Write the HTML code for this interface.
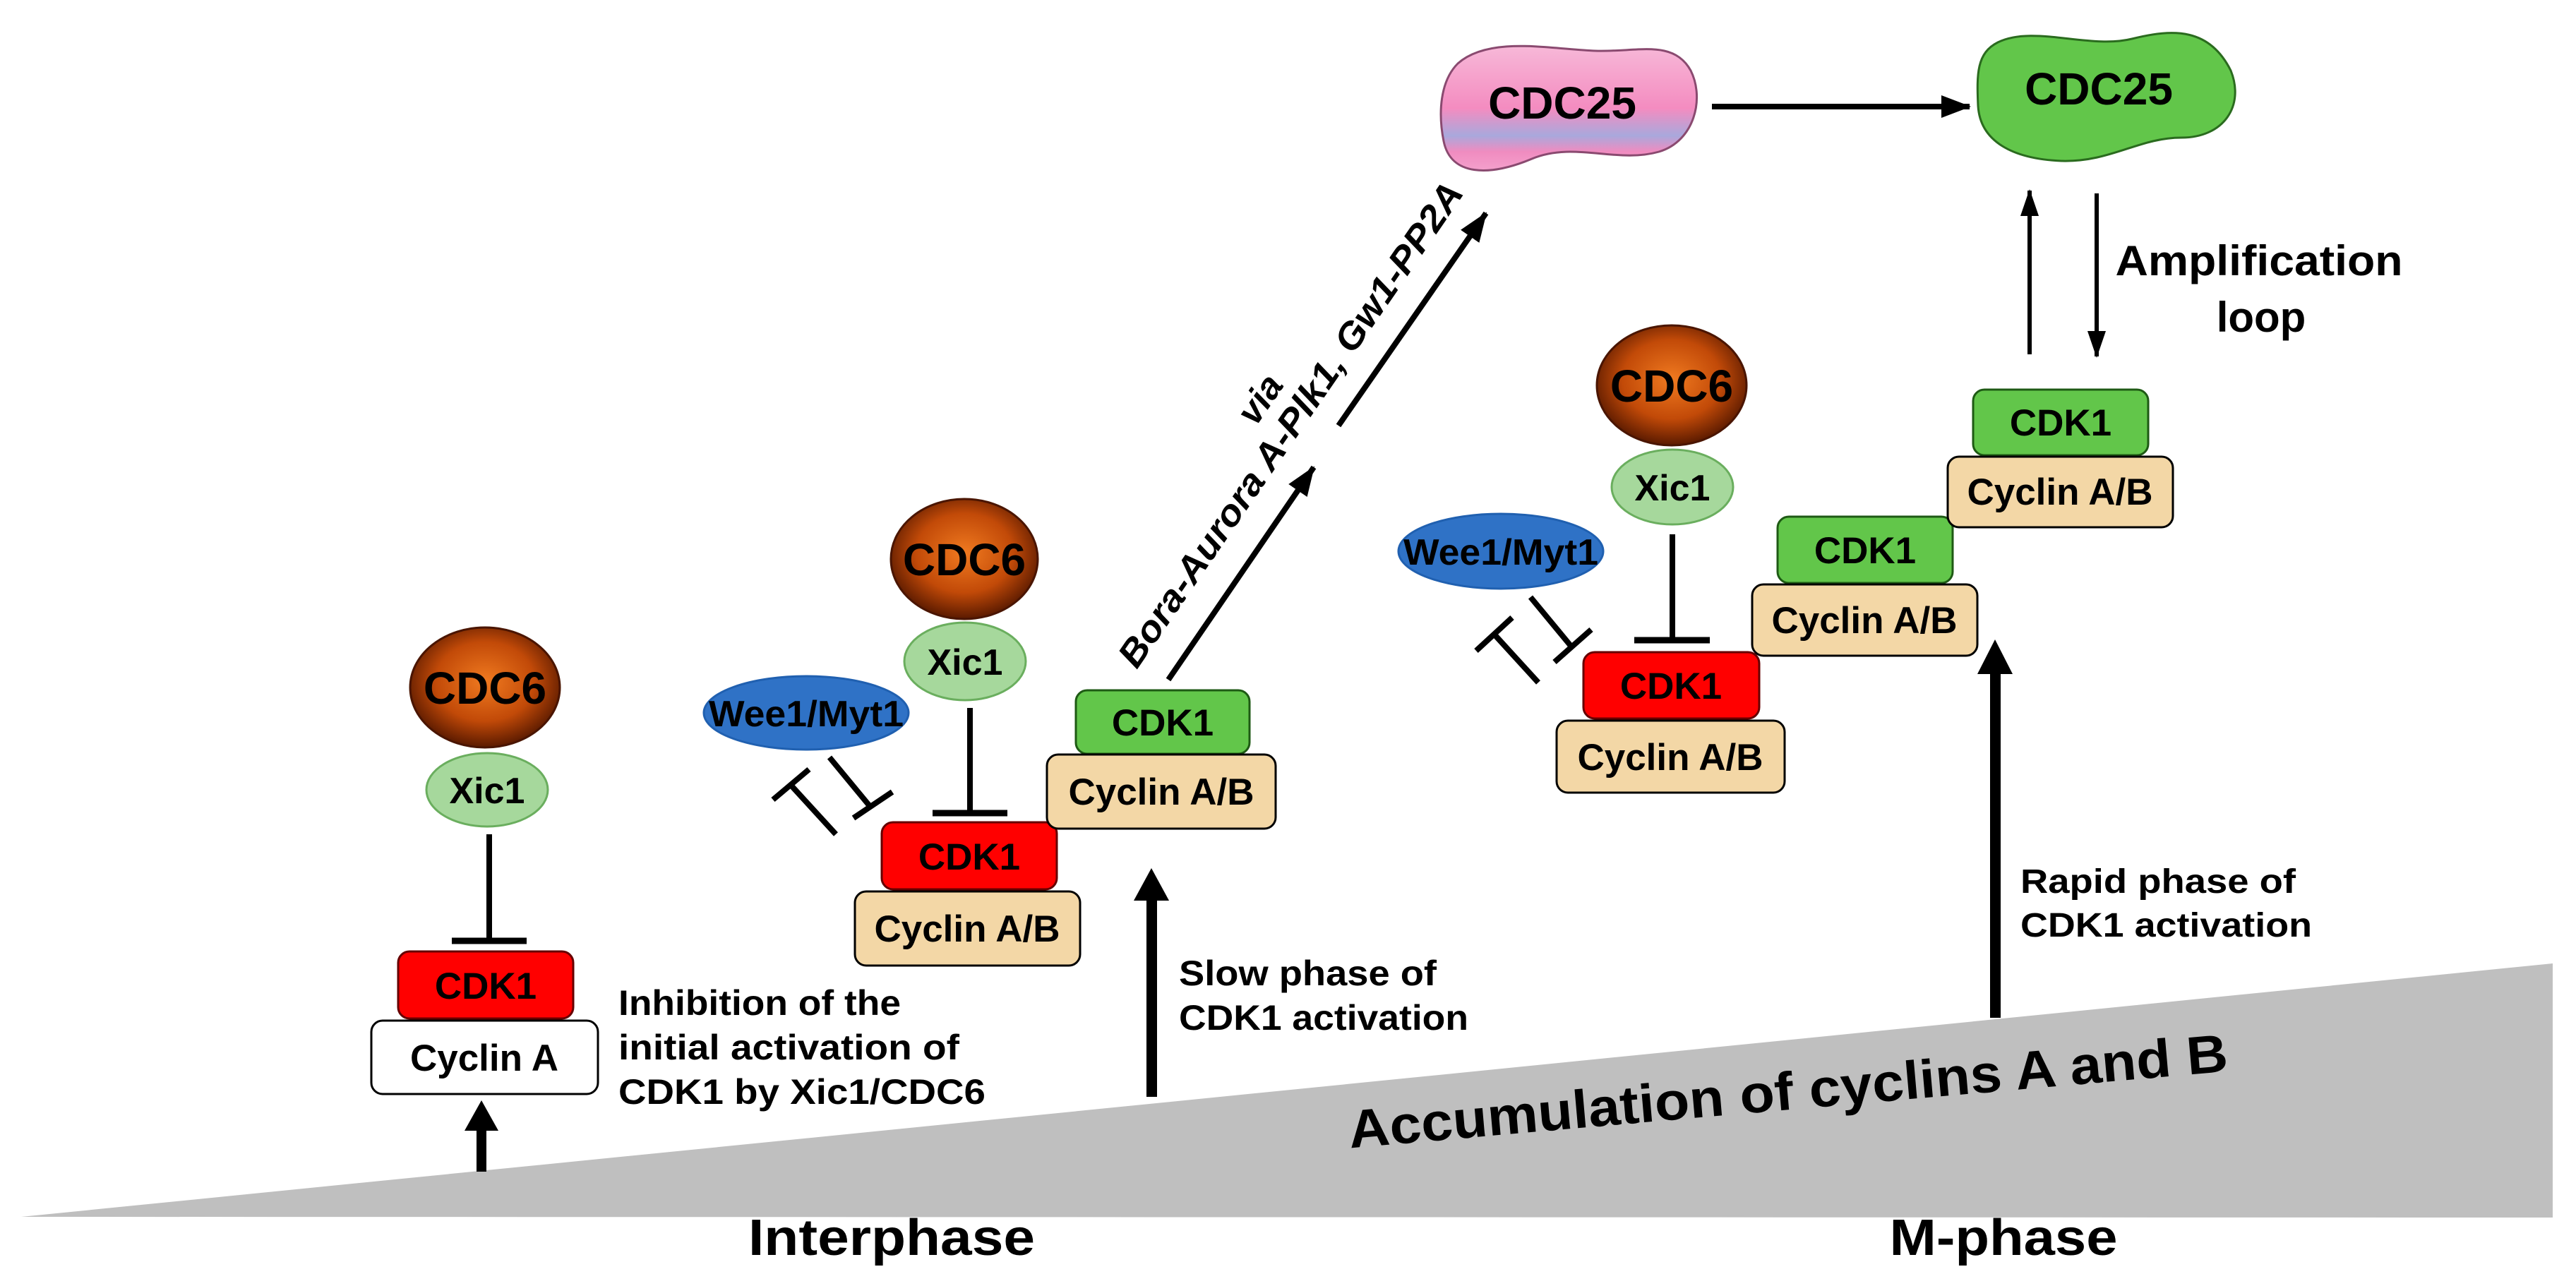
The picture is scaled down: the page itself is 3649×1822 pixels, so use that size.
<!DOCTYPE html>
<html><head><meta charset="utf-8"><style>
html,body{margin:0;padding:0;background:#fff}
svg{display:block}
text{font-family:"Liberation Sans",Arial,sans-serif;font-weight:bold;fill:#000}
</style></head><body>
<svg width="3649" height="1822" viewBox="0 0 3649 1822" xmlns="http://www.w3.org/2000/svg">
<defs>
<radialGradient id="cdc6" cx="50%" cy="45%" r="55%">
<stop offset="0" stop-color="#f07a20"/><stop offset="0.6" stop-color="#c24a08"/><stop offset="1" stop-color="#5a1a00"/>
</radialGradient>
<linearGradient id="pink" x1="0" y1="0" x2="0" y2="1">
<stop offset="0" stop-color="#f7b8d8"/><stop offset="0.5" stop-color="#f48cc0"/><stop offset="0.72" stop-color="#a9a8dc"/><stop offset="0.85" stop-color="#f08cc0"/><stop offset="1" stop-color="#f4a0cc"/>
</linearGradient>
<marker id="ah" markerWidth="44" markerHeight="36" refX="40" refY="18" orient="auto" markerUnits="userSpaceOnUse">
<path d="M0,2 L42,18 L0,34 z" fill="#000"/>
</marker>
<marker id="ah2" markerWidth="40" markerHeight="30" refX="36" refY="15" orient="auto" markerUnits="userSpaceOnUse">
<path d="M0,2 L38,15 L0,28 z" fill="#000"/>
</marker>
</defs>

<!-- triangle -->
<polygon points="30,1724 3616,1365 3616,1725" fill="#bfbfbf"/>
<text x="2535" y="1572" font-size="76" text-anchor="middle" textLength="1250" lengthAdjust="spacingAndGlyphs" transform="rotate(-5 2535 1572)">Accumulation of cyclins A and B</text>
<text x="1263" y="1778" font-size="72" text-anchor="middle" textLength="406" lengthAdjust="spacingAndGlyphs">Interphase</text>
<text x="2838" y="1778" font-size="72" text-anchor="middle" textLength="323" lengthAdjust="spacingAndGlyphs">M-phase</text>

<!-- thick up arrows -->
<g fill="#000">
<rect x="675" y="1598" width="14" height="62"/><polygon points="682,1559 658,1602 706,1602"/>
<rect x="1624" y="1270" width="15" height="284"/><polygon points="1631,1230 1606,1276 1656,1276"/>
<rect x="2819" y="948" width="15" height="494"/><polygon points="2826,906 2801,955 2851,955"/>
</g>

<!-- LEFT GROUP -->
<ellipse cx="687" cy="974" rx="106" ry="85" fill="url(#cdc6)" stroke="#4a1500" stroke-width="3"/>
<text x="687" y="997" font-size="64" text-anchor="middle" fill="#1a0800">CDC6</text>
<ellipse cx="690" cy="1119" rx="86" ry="52" fill="#a6d89c" stroke="#6aae5e" stroke-width="3"/>
<text x="690" y="1138" font-size="52" text-anchor="middle" fill="#102010">Xic1</text>
<line x1="693" y1="1182" x2="693" y2="1333" stroke="#000" stroke-width="8"/>
<line x1="640" y1="1333" x2="746" y2="1333" stroke="#000" stroke-width="9"/>
<rect x="564" y="1348" width="248" height="95" rx="16" fill="#ff0000" stroke="#600" stroke-width="3"/>
<text x="688" y="1415" font-size="53" text-anchor="middle" fill="#300">CDK1</text>
<rect x="526" y="1446" width="321" height="104" rx="16" fill="#fff" stroke="#000" stroke-width="3"/>
<text x="686" y="1517" font-size="53" text-anchor="middle">Cyclin A</text>
<g font-size="50">
<text x="876" y="1438" textLength="400" lengthAdjust="spacingAndGlyphs">Inhibition  of  the</text>
<text x="876" y="1501" textLength="483" lengthAdjust="spacingAndGlyphs">initial  activation  of</text>
<text x="876" y="1564" textLength="520" lengthAdjust="spacingAndGlyphs">CDK1 by Xic1/CDC6</text>
</g>

<!-- MIDDLE GROUP -->
<ellipse cx="1366" cy="792" rx="104" ry="85" fill="url(#cdc6)" stroke="#4a1500" stroke-width="3"/>
<text x="1366" y="815" font-size="64" text-anchor="middle" fill="#1a0800">CDC6</text>
<ellipse cx="1367" cy="937" rx="86" ry="55" fill="#a6d89c" stroke="#6aae5e" stroke-width="3"/>
<text x="1367" y="956" font-size="52" text-anchor="middle" fill="#102010">Xic1</text>
<ellipse cx="1142" cy="1010" rx="145" ry="52" fill="#2f72c6" stroke="#2060b0" stroke-width="3"/>
<text x="1142" y="1029" font-size="52" text-anchor="middle" fill="#0a0a30" textLength="276" lengthAdjust="spacingAndGlyphs">Wee1/Myt1</text>
<g stroke="#000" stroke-width="8" fill="none">
<line x1="1120" y1="1112" x2="1184" y2="1182"/><line x1="1095" y1="1133" x2="1146" y2="1090"/>
<line x1="1175" y1="1073" x2="1232" y2="1142"/><line x1="1209" y1="1159" x2="1264" y2="1122"/>
</g>
<line x1="1374" y1="1003" x2="1374" y2="1152" stroke="#000" stroke-width="8"/>
<line x1="1321" y1="1152" x2="1427" y2="1152" stroke="#000" stroke-width="9"/>
<rect x="1249" y="1165" width="248" height="95" rx="16" fill="#ff0000" stroke="#600" stroke-width="3"/>
<text x="1373" y="1232" font-size="53" text-anchor="middle" fill="#300">CDK1</text>
<rect x="1211" y="1263" width="319" height="105" rx="16" fill="#f3d7a6" stroke="#000" stroke-width="3"/>
<text x="1370" y="1334" font-size="53" text-anchor="middle">Cyclin A/B</text>
<rect x="1524" y="978" width="246" height="90" rx="16" fill="#62c64a" stroke="#1e5a14" stroke-width="3"/>
<text x="1647" y="1042" font-size="53" text-anchor="middle">CDK1</text>
<rect x="1483" y="1069" width="324" height="105" rx="16" fill="#f3d7a6" stroke="#000" stroke-width="3"/>
<text x="1645" y="1140" font-size="53" text-anchor="middle">Cyclin A/B</text>
<g font-size="50">
<text x="1670" y="1396" textLength="365" lengthAdjust="spacingAndGlyphs">Slow phase of</text>
<text x="1670" y="1459" textLength="410" lengthAdjust="spacingAndGlyphs">CDK1 activation</text>
</g>

<!-- diagonal arrows + text -->
<line x1="1655" y1="963" x2="1861" y2="662" stroke="#000" stroke-width="8" marker-end="url(#ah)"/>
<line x1="1896" y1="603" x2="2105" y2="302" stroke="#000" stroke-width="8" marker-end="url(#ah)"/>
<g transform="translate(1826,600) rotate(-55.5)">
<text x="0" y="20" font-size="52" font-weight="normal" font-style="italic" text-anchor="middle" textLength="820" lengthAdjust="spacingAndGlyphs">Bora-Aurora A-Plk1, Gw1-PP2A</text>
<text x="5" y="-36" font-size="52" font-weight="normal" font-style="italic" text-anchor="middle">via</text>
</g>

<!-- CDC25 pink -->
<path d="M2065,90 C2110,50 2200,70 2260,72 C2320,74 2370,55 2395,100 C2415,140 2400,200 2350,215 C2290,232 2230,200 2170,225 C2110,250 2055,250 2045,200 C2037,160 2040,115 2065,90 Z" fill="url(#pink)" stroke="#8a4a70" stroke-width="3"/>
<text x="2213" y="168" font-size="64" text-anchor="middle">CDC25</text>
<line x1="2425" y1="151" x2="2790" y2="151" stroke="#000" stroke-width="8" marker-end="url(#ah)"/>
<!-- CDC25 green -->
<path d="M2830,60 C2880,35 2960,70 3020,55 C3080,40 3130,40 3160,100 C3180,150 3150,195 3090,195 C3030,195 2990,230 2920,228 C2850,225 2805,200 2802,150 C2800,105 2800,75 2830,60 Z" fill="#62c64a" stroke="#2a6b1e" stroke-width="3"/>
<text x="2973" y="148" font-size="64" text-anchor="middle">CDC25</text>
<line x1="2875" y1="502" x2="2875" y2="270" stroke="#000" stroke-width="6" marker-end="url(#ah2)"/>
<line x1="2970" y1="274" x2="2970" y2="505" stroke="#000" stroke-width="6" marker-end="url(#ah2)"/>
<text x="3200" y="390" font-size="60" text-anchor="middle" textLength="407" lengthAdjust="spacingAndGlyphs">Amplification</text>
<text x="3203" y="470" font-size="60" text-anchor="middle">loop</text>

<!-- RIGHT GROUP -->
<ellipse cx="2368" cy="546" rx="106" ry="85" fill="url(#cdc6)" stroke="#4a1500" stroke-width="3"/>
<text x="2368" y="569" font-size="64" text-anchor="middle" fill="#1a0800">CDC6</text>
<ellipse cx="2369" cy="690" rx="86" ry="53" fill="#a6d89c" stroke="#6aae5e" stroke-width="3"/>
<text x="2369" y="709" font-size="52" text-anchor="middle" fill="#102010">Xic1</text>
<ellipse cx="2126" cy="781" rx="145" ry="53" fill="#2f72c6" stroke="#2060b0" stroke-width="3"/>
<text x="2126" y="800" font-size="52" text-anchor="middle" fill="#0a0a30" textLength="276" lengthAdjust="spacingAndGlyphs">Wee1/Myt1</text>
<g stroke="#000" stroke-width="8" fill="none">
<line x1="2116" y1="898" x2="2179" y2="967"/><line x1="2091" y1="922" x2="2142" y2="875"/>
<line x1="2168" y1="846" x2="2225" y2="915"/><line x1="2202" y1="938" x2="2254" y2="892"/>
</g>
<line x1="2369" y1="757" x2="2369" y2="907" stroke="#000" stroke-width="8"/>
<line x1="2315" y1="907" x2="2422" y2="907" stroke="#000" stroke-width="9"/>
<rect x="2243" y="924" width="249" height="94" rx="16" fill="#ff0000" stroke="#600" stroke-width="3"/>
<text x="2367" y="990" font-size="53" text-anchor="middle" fill="#300">CDK1</text>
<rect x="2205" y="1021" width="323" height="102" rx="16" fill="#f3d7a6" stroke="#000" stroke-width="3"/>
<text x="2366" y="1091" font-size="53" text-anchor="middle">Cyclin A/B</text>
<rect x="2518" y="732" width="248" height="94" rx="16" fill="#62c64a" stroke="#1e5a14" stroke-width="3"/>
<text x="2642" y="798" font-size="53" text-anchor="middle">CDK1</text>
<rect x="2482" y="828" width="319" height="101" rx="16" fill="#f3d7a6" stroke="#000" stroke-width="3"/>
<text x="2641" y="897" font-size="53" text-anchor="middle">Cyclin A/B</text>
<rect x="2795" y="552" width="248" height="93" rx="16" fill="#62c64a" stroke="#1e5a14" stroke-width="3"/>
<text x="2919" y="617" font-size="53" text-anchor="middle">CDK1</text>
<rect x="2759" y="647" width="319" height="100" rx="16" fill="#f3d7a6" stroke="#000" stroke-width="3"/>
<text x="2918" y="715" font-size="53" text-anchor="middle">Cyclin A/B</text>
<g font-size="48">
<text x="2862" y="1265" textLength="390" lengthAdjust="spacingAndGlyphs">Rapid phase of</text>
<text x="2862" y="1327" textLength="413" lengthAdjust="spacingAndGlyphs">CDK1 activation</text>
</g>
</svg>
</body></html>
